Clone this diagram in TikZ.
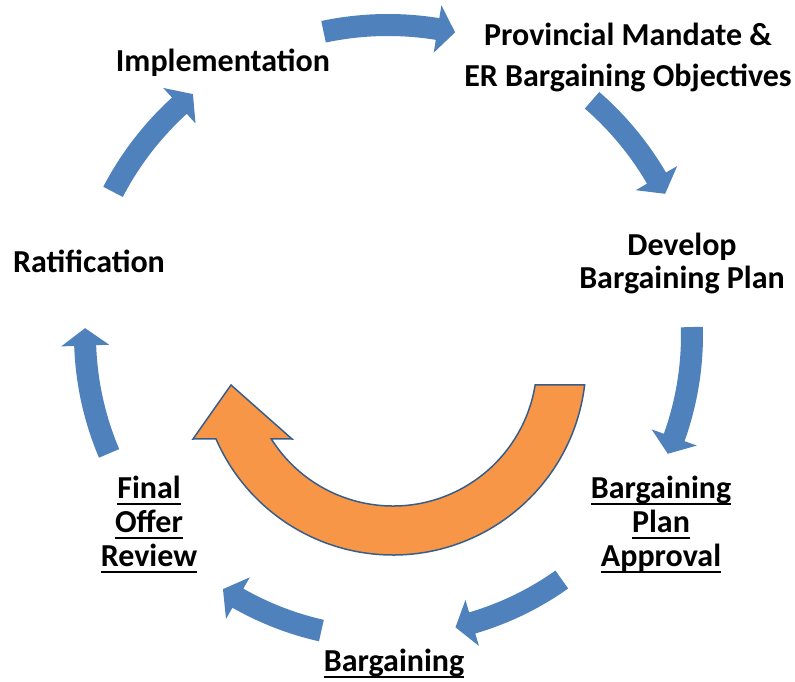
\documentclass[tikz,border=0pt]{standalone}
\usepackage{fontspec}
\setmainfont{Carlito}
\definecolor{cycleblue}{HTML}{4F81BD}
\definecolor{loopfill}{HTML}{F79646}
\definecolor{loopedge}{HTML}{385D8A}

% underline at a fixed depth below the baseline
\newcommand\ulbox[1]{\setbox0\hbox{#1}\rlap{\rule[-7pt]{\wd0}{2pt}}\box0}

% curved clockwise arrow on a circle: tail angle, tip angle, radius
\newcommand\cyclearrow[3]{%
  \pgfmathsetmacro\hb{#2+3.3}%
  \fill[cycleblue] (#1:{#3+11}) arc[start angle=#1, end angle=\hb, radius={#3+11}]
    -- (\hb:{#3+24}) -- (#2:#3) -- (\hb:{#3-24}) -- (\hb:{#3-11})
    arc[start angle=\hb, end angle=#1, radius={#3-11}] -- cycle;
}

% multi-line labels are anchored at the baseline of their last line
\tikzset{
  stage/.style={font=\fontsize{32}{34}\selectfont\bfseries, align=center, inner sep=0pt, anchor=base},
}

\begin{document}
\begin{tikzpicture}[x=1pt, y=1pt]
\useasboundingbox (0,0) rectangle (795,681);

% outer cycle of blue arrows
\begin{scope}[shift={(388,346)}]
  \cyclearrow{102}{77.5}{310}
  \cyclearrow{49}{27}{311}
  \cyclearrow{1.5}{-23}{304}
  \cyclearrow{-54.6}{-77}{300}
  \cyclearrow{-102.7}{-123}{303}
  \cyclearrow{-157}{-181.3}{303}
  \cyclearrow{152.5}{129}{310}
\end{scope}

% large orange return arrow
\begin{scope}[shift={(393,319)}]
  \filldraw[fill=loopfill, draw=loopedge, line width=1.5pt, line join=miter]
    (-6.84:193) arc[start angle=-6.84, end angle=-156.5, radius=193]
    -- (-200,-77) -- (-162,-23) -- (-101,-77) -- (-147.7:144)
    arc[start angle=-147.7, end angle=-9.19, radius=144] -- cycle;
\end{scope}

% stage labels
\node[stage] (impl) at (223,609) {Implementation};
\node[stage, font=\fontsize{32}{41}\selectfont\bfseries] (mandate) at (628,594) {Provincial Mandate \&\\ER Bargaining Objectives};
\node[stage, font=\fontsize{32}{33}\selectfont\bfseries] (develop) at (682,392) {Develop\\Bargaining Plan};
\node[stage] (approval) at (661,115) {\ulbox{Bargaining}\\\ulbox{Plan}\\\ulbox{Approval}};
\node[stage] (bargain) at (394,10) {\ulbox{Bargaining}};
\node[stage] (review) at (149,115) {\ulbox{Final}\\\ulbox{Offer}\\\ulbox{Review}};
\node[stage] (ratify) at (89,408) {Ratification};
\end{tikzpicture}
\end{document}
